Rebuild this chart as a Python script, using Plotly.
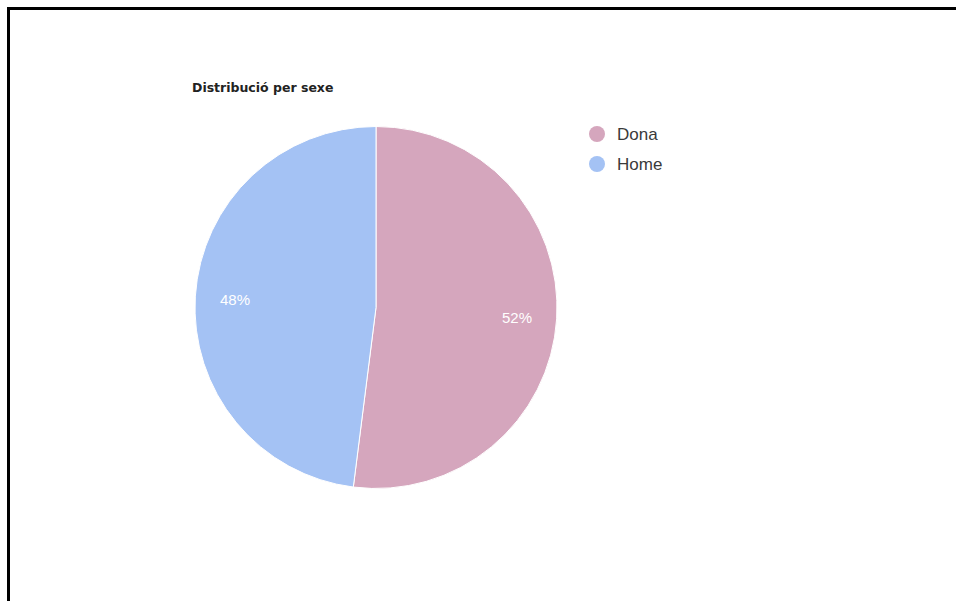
import math
import plotly.graph_objects as go

# Sex distribution
labels = ["Dona", "Home"]
values = [52, 48]
colors = ["#d5a6bd", "#a4c2f4"]
title_text = "Distribució per sexe"

W, H = 956, 601

def px(x):
    return x / W

def py(y):
    return 1 - y / H

# Pie placement in pixels
cx, cy, r = 376, 307.5, 181

fig = go.Figure()
fig.add_trace(go.Pie(
    labels=labels,
    values=values,
    marker=dict(colors=colors, line=dict(color="white", width=1)),
    sort=False,
    direction="clockwise",
    rotation=0,
    textinfo="none",
    hoverinfo="label+percent",
    showlegend=False,
    domain=dict(x=[px(cx - r), px(cx + r)], y=[py(cy + r), py(cy - r)]),
))

# Percentage labels placed at the middle angle of each slice
total = sum(values)
cum = 0
annotations = []
for lab, v in zip(labels, values):
    mid = (cum + v / 2) / total * 2 * math.pi
    cum += v
    lx = cx + 0.78 * r * math.sin(mid)
    ly = cy - 0.78 * r * math.cos(mid) + 1
    annotations.append(dict(
        x=px(lx), y=py(ly), xref="paper", yref="paper",
        text=f"{round(v / total * 100)}%", showarrow=False,
        font=dict(family="Arial, Liberation Sans", size=15, color="white"),
        xanchor="center", yanchor="middle",
    ))

# Title
annotations.append(dict(
    x=px(190), y=py(88), xref="paper", yref="paper", text=f"<b>{title_text}</b>",
    showarrow=False, xanchor="left", yanchor="middle",
    font=dict(family="DejaVu Sans", size=12.5, color="#222222"),
))

# Legend drawn as circles with labels
shapes = []
for i, (lab, col) in enumerate(zip(labels, colors)):
    ly = 134 + i * 30
    shapes.append(dict(
        type="circle", xref="paper", yref="paper",
        x0=px(589), x1=px(605), y0=py(ly + 8), y1=py(ly - 8),
        fillcolor=col, line=dict(width=0),
    ))
    annotations.append(dict(
        x=px(615), y=py(ly), xref="paper", yref="paper", text=lab,
        showarrow=False, xanchor="left", yanchor="middle",
        font=dict(family="Arial, Liberation Sans", size=17, color="#3a3a3a"),
    ))

# Outer frame: top and left edges
shapes.append(dict(
    type="path", xref="paper", yref="paper",
    path=f"M {px(8.5)} 0 L {px(8.5)} {py(8.5)} L {px(956)} {py(8.5)}",
    line=dict(color="black", width=3),
))

fig.update_layout(
    width=W, height=H,
    margin=dict(l=0, r=0, t=0, b=0),
    paper_bgcolor="white",
    plot_bgcolor="white",
    annotations=annotations,
    shapes=shapes,
    showlegend=False,
)

fig.write_html("out.html", config={"displayModeBar": False})
